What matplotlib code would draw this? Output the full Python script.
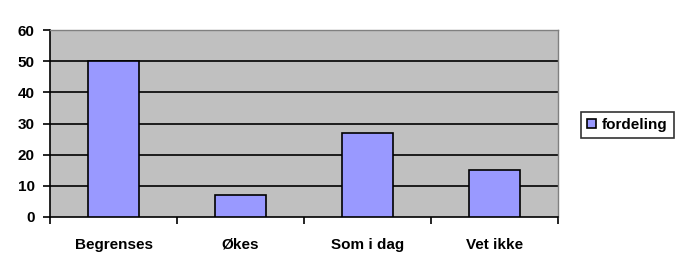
import matplotlib.pyplot as plt
import numpy as np

categories = ["Begrenses", "Økes", "Som i dag", "Vet ikke"]
values = [50, 7, 27, 15]
series_name = "fordeling"

plt.rcParams["font.family"] = ["Liberation Sans", "DejaVu Sans"]
plt.rcParams["font.weight"] = "bold"
plt.rcParams["font.size"] = 11

fig = plt.figure(figsize=(6.85, 2.74), dpi=100)
ax = fig.add_axes([50 / 685, 1 - 217 / 274, 508 / 685, 187 / 274])
ax.set_facecolor("#C0C0C0")

x = np.arange(len(categories))
ax.bar(x, values, width=0.4, color="#9999FF", edgecolor="black", linewidth=1.2,
       label=series_name, zorder=3)

ax.set_xlim(-0.5, len(categories) - 0.5)
ax.set_ylim(0, 60)
ax.set_yticks(range(0, 61, 10))
for v in range(10, 60, 10):
    ax.axhline(v, color="black", linewidth=1.2, zorder=1)

# ticks between categories, labels centered
ax.set_xticks(np.arange(-0.5, len(categories), 1.0))
ax.set_xticklabels([])
ax.set_xticks(x, minor=True)
ax.set_xticklabels(categories, minor=True)
ax.tick_params(axis="x", which="minor", length=0, pad=15)
ax.tick_params(axis="x", which="major", length=5, width=1.2, direction="out")
ax.tick_params(axis="y", length=5, width=1.2, direction="out", pad=6)

for side in ["top", "right"]:
    ax.spines[side].set_color("#808080")
    ax.spines[side].set_linewidth(1)
for side in ["left", "bottom"]:
    ax.spines[side].set_color("black")
    ax.spines[side].set_linewidth(1.2)

leg = fig.legend(loc="center left", bbox_to_anchor=(573 / 685, 1 - 125 / 274),
                 frameon=True, fancybox=False, edgecolor="black",
                 handlelength=0.6, handleheight=0.6, handletextpad=0.4,
                 borderpad=0.4)
leg.get_frame().set_linewidth(1.2)

fig.savefig("out.png", dpi=100)
